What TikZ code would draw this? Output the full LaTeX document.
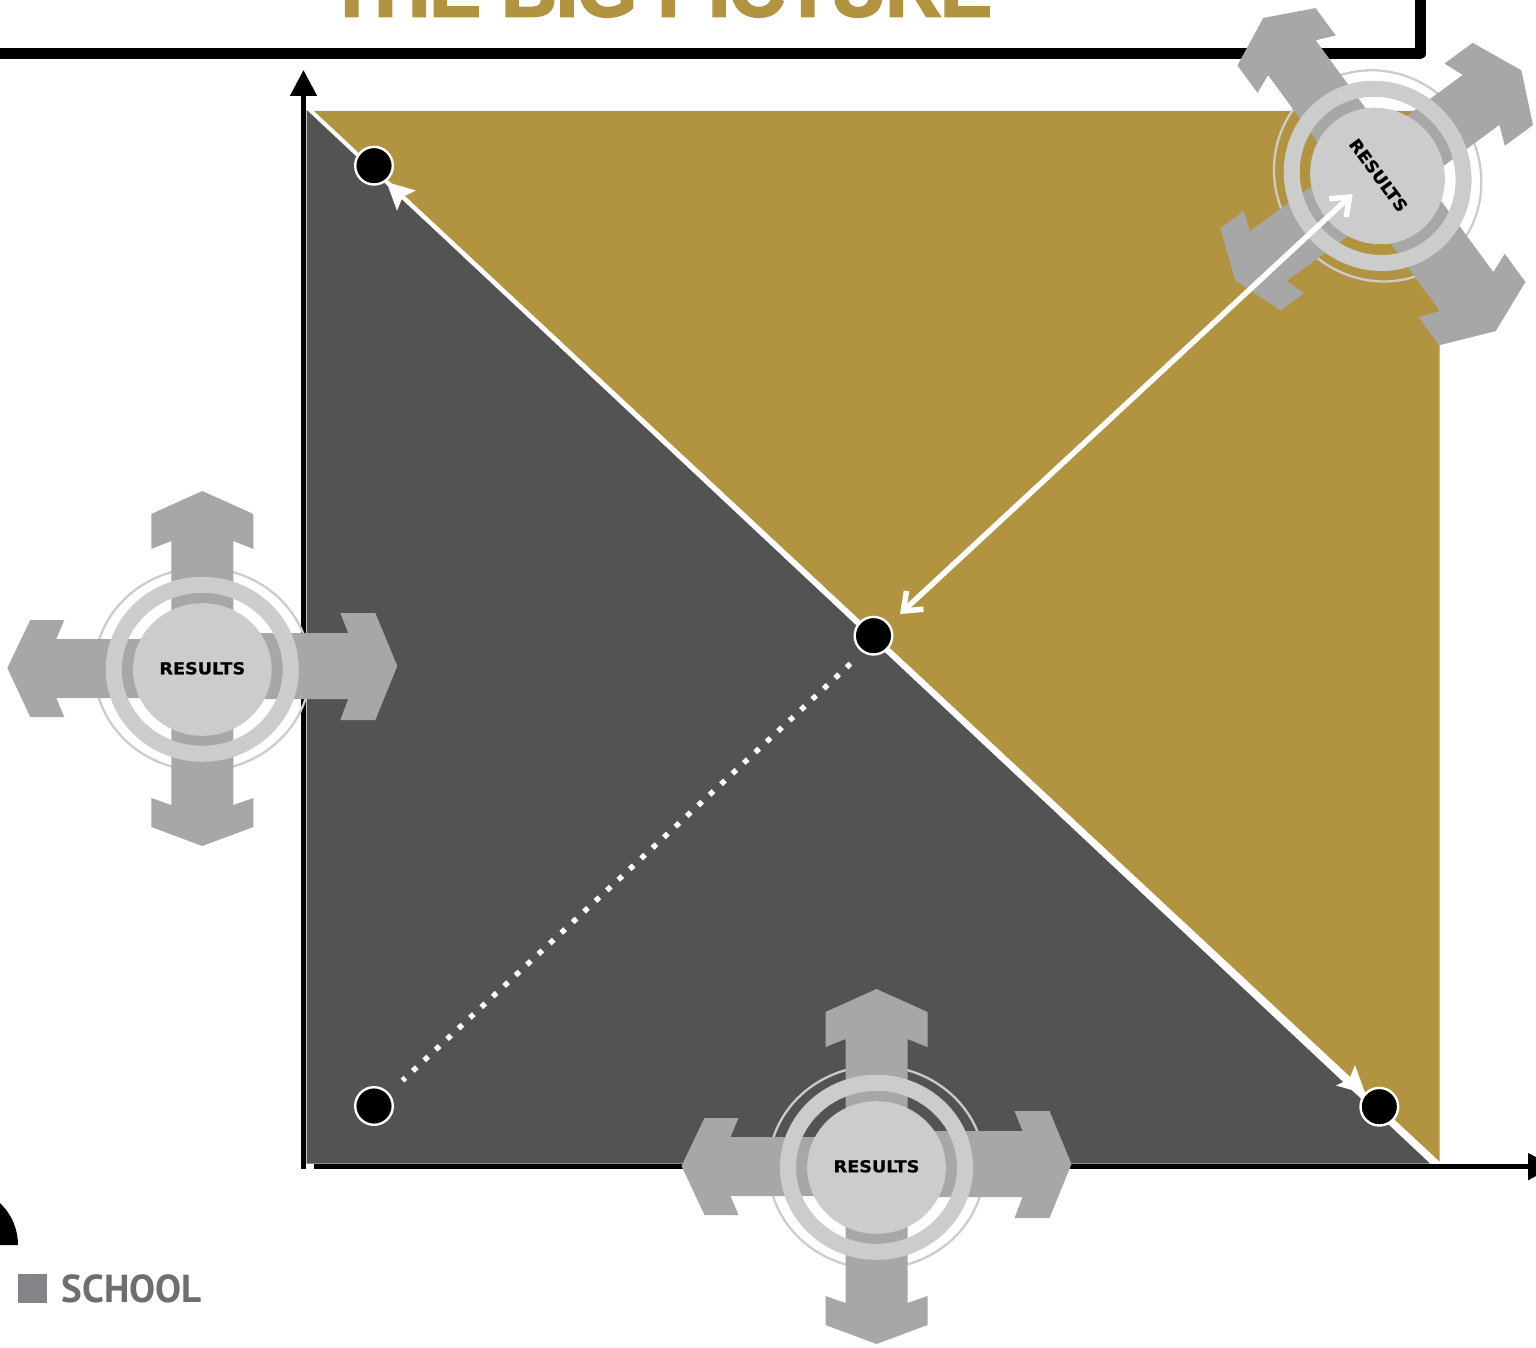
\documentclass[tikz,border=0pt]{standalone}
\usepackage{fontspec}
\setmainfont{Liberation Sans}
\newfontfamily\titlefont[BoldFeatures={FakeBold=3.5}]{Liberation Sans}
\newfontfamily\symfont[BoldFeatures={FakeStretch=1.07,FakeBold=0.8}]{DejaVu Sans}
\newfontfamily\schoolfont{PT Sans}
\usetikzlibrary{arrows.meta}
\definecolor{gold}{HTML}{B2933F}
\definecolor{panel}{HTML}{535353}
\definecolor{ringc}{HTML}{CCCCCC}
\definecolor{arrowc}{HTML}{A7A7A7}
\definecolor{squarec}{HTML}{838487}
\definecolor{schoolc}{HTML}{6D6E71}
\tikzset{
  dotnode/.style={circle,draw=white,fill=black,line width=2.4pt,minimum size=37.6pt,inner sep=0pt},
  headline/.style={draw=white,line width=4pt,{Stealth[length=27pt,width=27pt,inset=5pt]}-{Stealth[length=27pt,width=27pt,inset=5pt]}},
  openline/.style={draw=white,line width=5.5pt,{Straight Barb[length=16pt,width=25pt,line width=5.5pt]}-{Straight Barb[length=16pt,width=25pt,line width=5.5pt]}},
  dotline/.style={draw=white,line width=5.4pt,dash pattern=on 5.4pt off 10.19pt},
  axisline/.style={draw=black,line width=5pt},
  axishead/.style={-{Triangle[length=26pt,width=26pt]}},
  arrowshape/.style={fill=arrowc},
  ringshape/.style={fill=ringc,even odd rule},
  symlabel/.style={text=black,inner sep=0pt,font=\symfont\bfseries\fontsize{16.5}{16.5}\selectfont},
}
\newcommand{\resultsym}[4]{%
  \begin{scope}[shift={(#2,#3)},rotate=#4]
    \fill[ringshape] (0,1.3) ellipse (109pt and 102.5pt) (0,1.3) ellipse (106.7pt and 100.2pt);
    \fill[arrowshape] (0,-177) -- (51,-154) -- (51,-119) -- (31,-127) -- (31,127)
      -- (31,137) -- (51,130) -- (51,159) -- (0,178) -- (-51,159) -- (-51,130) -- (-31,137)
      -- (-31,-127) -- (-51,-119) -- (-51,-154) -- cycle;
    \fill[arrowshape] (-195,0) -- (-172,-48) -- (-138,-48) -- (-146,-29) -- (0,-29)
      -- (0,30) -- (-146,30) -- (-138,49) -- (-172,49) -- cycle;
    \fill[arrowshape] (195,-2) -- (173,-55) -- (138,-55) -- (146,-35) -- (0,-35)
      -- (0,31) -- (146,31) -- (138,52) -- (173,52) -- cycle;
    \fill[ringshape] (0,1.3) ellipse (96.5pt and 92.5pt) (0,1.3) ellipse (80.5pt and 76.5pt);
    \fill[ringc] (0,1.5) ellipse (69.3pt and 66.3pt);
    \node[symlabel,rotate=#4] (#1) at (0,0.3) {RESULTS};
  \end{scope}}
\begin{document}
\begin{tikzpicture}[x=1pt,y=-1pt]
\useasboundingbox (0,0) rectangle (1536,1348);
\clip (0,0) rectangle (1536,1348);
% title and frame
\node[anchor=base,inner sep=0pt,text=gold,font=\titlefont\bfseries\fontsize{76}{76}\selectfont] (title) at (660,16) {THE BIG PICTURE};
\coordinate (frameA) at (-10,53.7);
\coordinate (frameB) at (1420.3,53.7);
\coordinate (frameC) at (1420.3,-10);
\draw[black,line width=11pt,line join=round] (frameA) -- (frameB) -- (frameC);
% panels (the white band between them is the page showing through)
\fill[gold] (314,111) -- (1439.5,111) -- (1439.5,1161.5) -- cycle;
\fill[panel] (306.7,110) -- (306.7,1163.5) -- (1430,1163.5) -- cycle;
% axes
\coordinate (yfoot) at (303.5,1169);
\coordinate (ytip) at (303.5,70);
\coordinate (xfoot) at (313.5,1166.6);
\coordinate (xtip) at (1554,1166.6);
\draw[axisline,axishead] (yfoot) -- (ytip);
\draw[axisline,axishead] (xfoot) -- (xtip);
% symbols
\resultsym{symL}{202.3}{668}{0}
\resultsym{symB}{876.5}{1166}{0}
\resultsym{symT}{1378.7}{175.1}{-53.7}
% connectors
\coordinate (tipA) at (386.5,182);
\coordinate (tipD) at (1365.5,1094);
\draw[headline] (tipA) -- (tipD);
\coordinate (openEnd) at (1352.7,194);
\coordinate (openStart) at (900,614);
\draw[openline] (openStart) -- (openEnd);
\coordinate (dotsA) at (850.5,663.7);
\coordinate (dotsB) at (402.5,1080.5);
\draw[dotline] (dotsA) -- (dotsB);
% dots
\node[dotnode] (a) at (374,165.7) {};
\node[dotnode] (c) at (873.5,635.7) {};
\node[dotnode] (b) at (374,1106) {};
\node[dotnode] (d) at (1379.3,1106.7) {};
% quarter disc and legend
\coordinate (discC) at (-40,1245);
\fill[black] (discC) ++(58,0) arc[start angle=0,end angle=90,radius=58pt] -- (discC) -- cycle;
\node[fill=squarec,minimum size=29pt,inner sep=0pt] (sq) at (32.5,1288.5) {};
\node[anchor=base west,inner sep=0pt,text=schoolc,font=\schoolfont\bfseries\fontsize{39}{39}\selectfont] (school) at (61.5,1302) {SCHOOL};
\end{tikzpicture}
\end{document}
